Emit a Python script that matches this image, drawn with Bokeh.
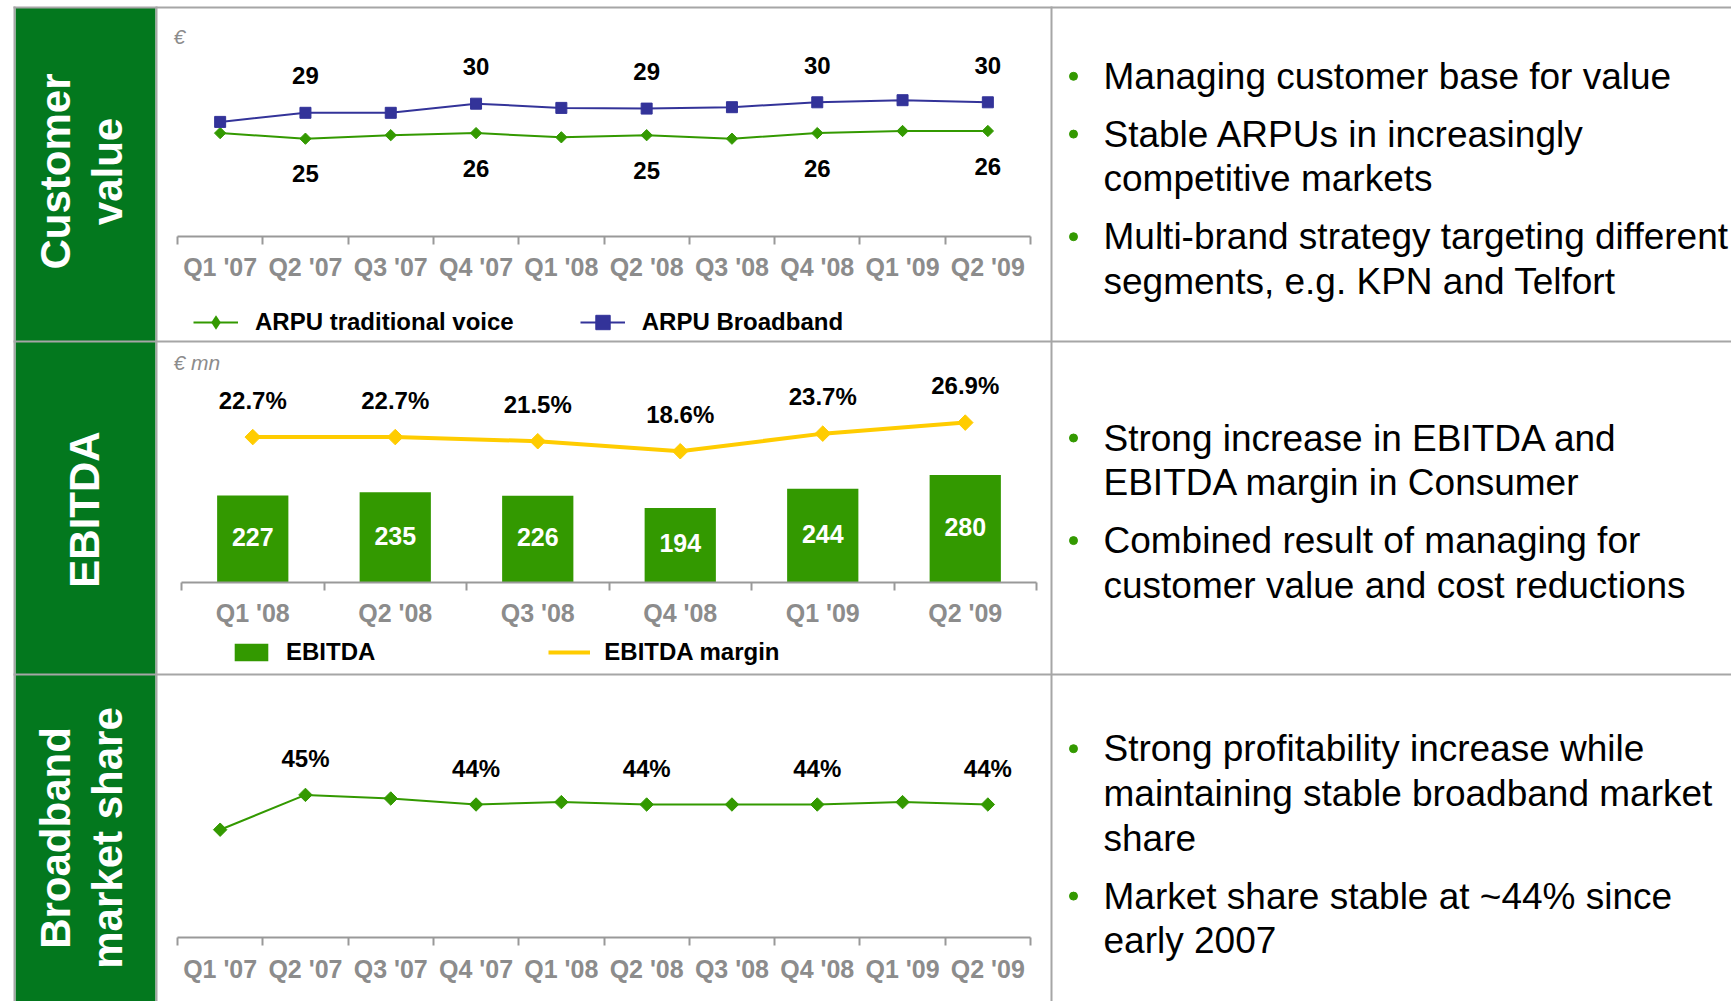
import numpy as np
from bokeh.plotting import figure
from bokeh.models import (Range1d, FixedTicker, Legend, LegendItem, Label,
                          ColumnDataSource, LinearAxis, Grid)
from bokeh.core.properties import value
from bokeh.embed import file_html
from bokeh.resources import INLINE

# ---------------- data ----------------
quarters_07_09 = ["Q1 '07", "Q2 '07", "Q3 '07", "Q4 '07", "Q1 '08",
                  "Q2 '08", "Q3 '08", "Q4 '08", "Q1 '09", "Q2 '09"]
arpu_voice = [25.7, 24.9, 25.4, 25.7, 25.1, 25.4, 24.9, 25.7, 26.0, 26.0]
arpu_broadband = [27.3, 28.6, 28.6, 29.9, 29.3, 29.2, 29.4, 30.1, 30.4, 30.1]

quarters_08_09 = ["Q1 '08", "Q2 '08", "Q3 '08", "Q4 '08", "Q1 '09", "Q2 '09"]
ebitda = [227, 235, 226, 194, 244, 280]
ebitda_margin = [22.7, 22.7, 21.5, 18.6, 23.7, 26.9]

broadband_share = [41.9, 44.8, 44.5, 44.0, 44.2, 44.0, 44.0, 44.0, 44.2, 44.0]

labelled_points = [1, 3, 5, 7, 9]

row_titles = [["Customer", "value"], ["EBITDA"], ["Broadband", "market share"]]
bullets = [
    [["Managing customer base for value"],
     ["Stable ARPUs in increasingly", "competitive markets"],
     ["Multi-brand strategy targeting different", "segments, e.g. KPN and Telfort"]],
    [["Strong increase in EBITDA and", "EBITDA margin in Consumer"],
     ["Combined result of managing for", "customer value and cost reductions"]],
    [["Strong profitability increase while", "maintaining stable broadband market", "share"],
     ["Market share stable at ~44% since", "early 2007"]],
]

# ---------------- style ----------------
FONT = "Liberation Sans"
PANEL_GREEN = "#03781E"
LINE_GREEN = "#339900"
NAVY = "#333399"
GOLD = "#FFCC00"
RULE = "#A6A6A6"
AXIS_GRAY = "#999999"
TICK_TEXT = "#8C8C8C"

# page geometry (pixels): the single figure's frame covers the whole page area
PX0, PX1 = 0, 1731
PY_TOP, PY_BOT = 0, 1001


def mapped_range(v_a, p_a, v_b, p_b, frame):
    """Range whose scale puts value v_a at page pixel p_a and v_b at p_b."""
    k = (p_b - p_a) / (v_b - v_a)
    return Range1d(v_a + (frame[0] - p_a) / k, v_a + (frame[1] - p_a) / k)


XF = (PX0, PX1)
YF = (PY_BOT, PY_TOP)

p = figure(width=PX1 - PX0, height=PY_BOT - PY_TOP, title=None,
           x_range=Range1d(PX0, PX1), y_range=Range1d(PY_BOT, PY_TOP),
           toolbar_location=None, output_backend="svg",
           x_axis_location=None, y_axis_location=None, min_border=0,
           outline_line_color=None, background_fill_color="white",
           border_fill_color="white")
p.center = [c for c in p.center if not isinstance(c, Grid)]
p.renderers = [r for r in p.renderers if not isinstance(r, Grid)]

# chart panels: category index -> page x, value -> page y
p.extra_x_ranges = {
    "q10": mapped_range(-0.5, 177, 9.5, 1030, XF),
    "q6": mapped_range(-0.5, 181, 5.5, 1036, XF),
}
p.extra_y_ranges = {
    "arpu": mapped_range(0, 312.5, 30, 102.5, YF),
    "ebitda": mapped_range(0, 582.3, 280, 474.5, YF),
    "margin": mapped_range(0, 514.9, 26.9, 422.1, YF),
    "share": mapped_range(0, 1332, 44, 804, YF),
}

# ---------------- panel frame ----------------
p.quad(left=15, right=155, top=7, bottom=PY_BOT, fill_color=PANEL_GREEN, line_color=None)
p.segment(x0=[14, 156, 1051, 13, 13, 13], y0=[6, 6, 6, 7, 341, 674],
          x1=[14, 156, 1051, PX1, PX1, PX1], y1=[PY_BOT, PY_BOT, PY_BOT, 7, 341, 674],
          line_color=RULE, line_width=2)

LBL = dict(text_font=value(FONT), text_font_style="bold", text_font_size="24px",
           text_color="black", text_align="center", text_baseline="middle")


def add_axis(x_name, labels, y_page, standoff):
    n = len(labels)
    ax = LinearAxis(x_range_name=x_name, fixed_location=y_page, bounds=(-0.5, n - 0.5),
                    ticker=FixedTicker(ticks=list(range(n)),
                                       minor_ticks=[i - 0.5 for i in range(n + 1)]))
    ax.major_label_overrides = {i: lab for i, lab in enumerate(labels)}
    ax.axis_line_color = AXIS_GRAY
    ax.axis_line_width = 2
    ax.major_tick_line_color = None
    ax.major_tick_out = 0
    ax.major_tick_in = 0
    ax.minor_tick_line_color = AXIS_GRAY
    ax.minor_tick_line_width = 2
    ax.minor_tick_out = 8
    ax.minor_tick_in = 0
    ax.major_label_standoff = standoff
    ax.major_label_text_font = FONT
    ax.major_label_text_font_style = "bold"
    ax.major_label_text_font_size = "25px"
    ax.major_label_text_color = TICK_TEXT
    p.add_layout(ax, "below")


def add_legend(items, left_page, center_page, spacing, glyph_w, glyph_h, h, standoff):
    p.add_layout(Legend(items=items, orientation="horizontal",
                        location=(left_page - PX0, PY_BOT - (center_page - h / 2) - h),
                        spacing=spacing, glyph_width=glyph_w, glyph_height=glyph_h,
                        label_height=h, label_standoff=standoff, padding=0, margin=0,
                        border_line_color=None, background_fill_alpha=0,
                        label_text_font=FONT, label_text_font_style="bold",
                        label_text_font_size="24px", label_text_color="black"))


def unit_label(x, y, text):
    p.add_layout(Label(x=x, y=y, text=text, text_font=FONT, text_font_style="italic",
                       text_font_size="21px", text_color=TICK_TEXT,
                       text_align="left", text_baseline="middle"))


# ---------------- chart 1 : ARPU ----------------
s1 = ColumnDataSource(dict(x=list(range(len(quarters_07_09))), voice=arpu_voice, bb=arpu_broadband))
R1 = dict(x_range_name="q10", y_range_name="arpu")
lv = p.line("x", "voice", source=s1, line_color=LINE_GREEN, line_width=2, **R1)
p.scatter("x", "voice", source=s1, marker="square", angle=np.pi / 4, size=8,
          fill_color=LINE_GREEN, line_color=LINE_GREEN, **R1)
# diamond key for the legend (zero size on the plot itself)
sv_key = p.scatter("x", "voice", source=s1, marker="diamond", size=0,
                   fill_color=LINE_GREEN, line_color=None, **R1)
lb = p.line("x", "bb", source=s1, line_color=NAVY, line_width=2, **R1)
sb = p.scatter("x", "bb", source=s1, marker="square", size=11,
               fill_color=NAVY, line_color=NAVY, **R1)
l1 = ColumnDataSource(dict(
    x=labelled_points,
    bb=[arpu_broadband[i] for i in labelled_points],
    bbt=[f"{arpu_broadband[i]:.0f}" for i in labelled_points],
    v=[arpu_voice[i] for i in labelled_points],
    vt=[f"{arpu_voice[i]:.0f}" for i in labelled_points]))
p.text("x", "bb", text="bbt", source=l1, y_offset=-37, **R1, **LBL)
p.text("x", "v", text="vt", source=l1, y_offset=35, **R1, **LBL)
add_axis("q10", quarters_07_09, 236, 8)
add_legend([LegendItem(label="ARPU traditional voice", renderers=[lv, sv_key]),
            LegendItem(label="ARPU Broadband", renderers=[lb, sb])],
           193, 321.7, 66, 45, 36, 36, 17)
unit_label(173, 35.8, "€")

# ---------------- chart 2 : EBITDA ----------------
s2 = ColumnDataSource(dict(x=list(range(len(quarters_08_09))), e=ebitda,
                           half=[v / 2 for v in ebitda], et=[str(v) for v in ebitda],
                           m=ebitda_margin, mt=[f"{m:.1f}%" for m in ebitda_margin]))
bars = p.vbar(x="x", top="e", bottom=0, width=0.5, source=s2, x_range_name="q6",
              y_range_name="ebitda", fill_color=LINE_GREEN, line_color=None)
p.text("x", "half", text="et", source=s2, x_range_name="q6", y_range_name="ebitda",
       y_offset=-2, **{**LBL, "text_color": "white", "text_font_size": "25px"})
R2 = dict(source=s2, x_range_name="q6", y_range_name="margin")
lm = p.line("x", "m", line_color=GOLD, line_width=4, **R2)
p.scatter("x", "m", marker="square", angle=np.pi / 4, size=11,
          fill_color=GOLD, line_color=GOLD, **R2)
p.text("x", "m", text="mt", y_offset=-37, **R2, **LBL)
add_axis("q6", quarters_08_09, 582, 8)
add_legend([LegendItem(label="EBITDA", renderers=[bars]),
            LegendItem(label="EBITDA margin", renderers=[lm])],
           230, 651.7, 173, 42, 22, 28, 14)
unit_label(173, 361.7, "€ mn")

# ---------------- chart 3 : broadband market share ----------------
s3 = ColumnDataSource(dict(x=list(range(len(quarters_07_09))), s=broadband_share))
R3 = dict(x_range_name="q10", y_range_name="share")
p.line("x", "s", source=s3, line_color=LINE_GREEN, line_width=2, **R3)
p.scatter("x", "s", source=s3, marker="square", angle=np.pi / 4, size=9.5,
          fill_color=LINE_GREEN, line_color=LINE_GREEN, **R3)
l3 = ColumnDataSource(dict(x=labelled_points,
                           s=[broadband_share[i] for i in labelled_points],
                           st=[f"{broadband_share[i]:.0f}%" for i in labelled_points]))
p.text("x", "s", text="st", source=l3, y_offset=-36.5, **R3, **LBL)
add_axis("q10", quarters_07_09, 937, 9)

# ---------------- row titles (rotated, on the green band) ----------------
title_x = [[55, 106.5], [84], [55, 106.5]]
title_y = [171, 509, 837.5]
for lines, xs, yc in zip(row_titles, title_x, title_y):
    p.text(x=xs, y=[yc] * len(lines), text=lines, angle=np.pi / 2,
           text_font=value(FONT), text_font_style="bold", text_font_size="42px",
           text_color="white", text_align="center", text_baseline="middle")

# ---------------- bullet texts ----------------
LINE_GAP, BULLET_GAP = 44.8, 57.8
row_text_start = [75.8, 437.5, 748.2]
tx, ty, tt, bx, by = [], [], [], [], []
for blist, y in zip(bullets, row_text_start):
    for b in blist:
        bx.append(1073)
        by.append(y)
        for line in b:
            tx.append(1103)
            ty.append(y)
            tt.append(line)
            y += LINE_GAP
        y += BULLET_GAP - LINE_GAP
p.text(x=tx, y=ty, text=tt, text_font=value(FONT), text_font_size="37px",
       text_color="black", text_align="left", text_baseline="middle")
p.scatter(x=bx, y=by, size=8, fill_color=LINE_GREEN, line_color=LINE_GREEN)

open("out.html", "w").write(file_html(p, INLINE))
